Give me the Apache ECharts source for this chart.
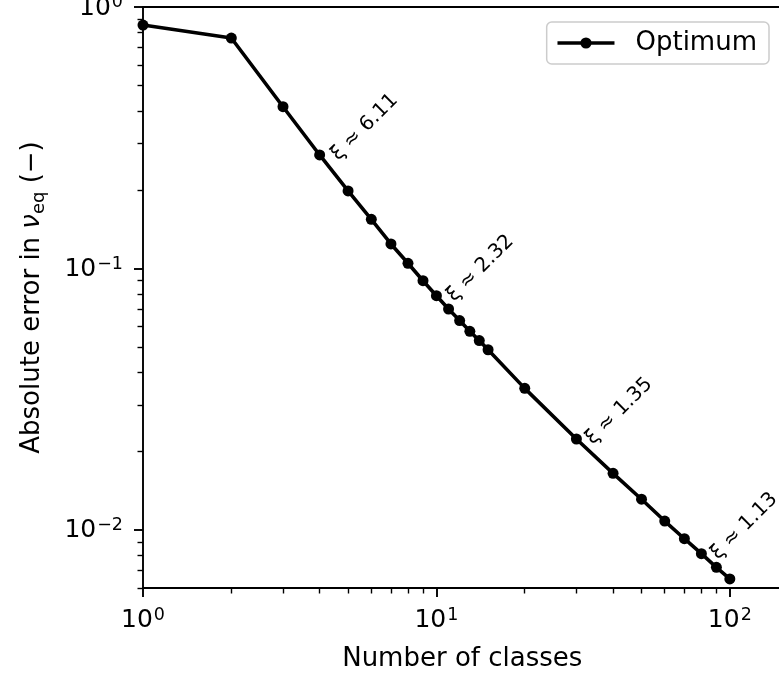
<!DOCTYPE html>
<html><head><meta charset="utf-8">
<script src="https://cdn.jsdelivr.net/npm/echarts@6/dist/echarts.min.js"></script>
<style>html,body{margin:0;padding:0;background:#fff}#c{width:779px;height:674px}</style>
</head><body><div id="c"></div>
<script>
const classes = [1,2,3,4,5,6,7,8,9,10,11,12,13,14,15,20,30,40,50,60,70,80,90,100];
const absError = [0.853,0.761,0.4156,0.2717,0.1979,0.1542,0.1241,0.1047,0.0898,0.0787,0.0700,0.0632,0.0575,0.0530,0.0489,0.0348,0.02228,0.01647,0.01311,0.01082,0.00926,0.00812,0.00720,0.00650];
const xMajorTicks = [1,10,100];
const xMinorTicks = [2,3,4,5,6,7,8,9,20,30,40,50,60,70,80,90];
const yMajorTicks = [0.01,0.1,1];
const yMinorTicks = [0.006,0.007,0.008,0.009,0.02,0.03,0.04,0.05,0.06,0.07,0.08,0.09,0.2,0.3,0.4,0.5,0.6,0.7,0.8,0.9];
const annX = [4.75,11.8,35.0,93.5];
const annY = [0.250,0.0722,0.0205,0.00745];
const annText = ['ξ ≈ 6.11','ξ ≈ 2.32','ξ ≈ 1.35','ξ ≈ 1.13'];

const FONT = 'DejaVu Sans';
function sci(v){
  const e = Math.round(Math.log10(v));
  return '{b|10}{s|' + (e < 0 ? '\u2212' + (-e) : e) + '}';
}
const rich = {
  b: {fontSize: 25, fontFamily: FONT, color: '#000', lineHeight: 27, verticalAlign: 'bottom'},
  s: {fontSize: 17.5, fontFamily: FONT, color: '#000', lineHeight: 27, verticalAlign: 'top', padding: [0,0,0,1]}
};
const common = {type: 'log', logBase: 10, splitLine: {show: false}, minorTick: {show: false}, minorSplitLine: {show: false}};

function buildOption(f){
  const legend = {
    data: ['Optimum'], right: 10, top: 22, itemWidth: 57, itemHeight: 14,
    padding: [8, 12, 8, 9],
    textStyle: {fontSize: 26, fontFamily: FONT, color: '#000', padding: [0,0,0,16]}
  };
  if (!f.plainLegend) Object.assign(legend, {
    backgroundColor: 'rgba(255,255,255,0.8)', borderColor: '#cccccc', borderWidth: 1.5, borderRadius: 5,
    lineStyle: {width: 3.6, color: '#000'}, itemStyle: {color: '#000'}
  });
  const yName = f.plainYName
    ? {name: 'Absolute error in ν_eq (\u2212)', nameTextStyle: {fontSize: 26, fontFamily: FONT, color: '#000'}}
    : {name: '{a|Absolute error in }{n|ν}{e|eq}{a| (\u2212)}',
       nameTextStyle: {fontSize: 26, fontFamily: FONT, color: '#000',
        rich: {
          a: {fontSize: 26, fontFamily: FONT, color: '#000', lineHeight: 32, verticalAlign: 'middle'},
          n: {fontSize: 26, fontFamily: FONT, fontStyle: 'italic', color: '#000', lineHeight: 32, verticalAlign: 'middle'},
          e: {fontSize: 18, fontFamily: FONT, color: '#000', lineHeight: 32, verticalAlign: 'bottom'}
        }}};
  const annSeries = f.plainScatter
    ? {type: 'scatter', name: 'annotations', silent: true, symbol: 'circle', symbolSize: 0.01,
       data: annX.map((x, i) => ({value: [x, annY[i]], label: {formatter: annText[i]}})),
       label: {show: true, position: [0, 0], align: 'left', verticalAlign: 'bottom', rotate: 45,
         fontSize: 20, fontFamily: FONT, color: '#000'}, z: 4}
    : {type: 'scatter', name: 'annotations', xAxisIndex: 0, yAxisIndex: 0, silent: true,
       symbolSize: 1, itemStyle: {color: 'rgba(0,0,0,0)'},
       data: annX.map((x, i) => ({value: [x, annY[i]], label: {formatter: annText[i]}})),
       label: {show: true, position: 'inside', align: 'left', verticalAlign: 'bottom', rotate: 45,
         fontSize: 20, fontFamily: FONT, color: '#000', textBorderWidth: 0, opacity: 1},
       emphasis: {disabled: true}, z: 4};
  return {
    animation: false,
    backgroundColor: '#fff',
    grid: {left: 143, top: 7, width: 638.5, height: 581, outerBoundsMode: 'none', containLabel: false, show: false},
    legend: legend,
    xAxis: [
      Object.assign({}, common, {
        min: 1, max: 150, position: 'bottom',
        name: 'Number of classes', nameLocation: 'middle', nameGap: 58,
        nameTextStyle: {fontSize: 26, fontFamily: FONT, color: '#000'},
        axisLine: {show: true, lineStyle: {color: '#000', width: 1.9}},
        axisTick: {show: true, length: 9, lineStyle: {color: '#000', width: 1.9}, customValues: xMajorTicks},
        axisLabel: {show: true, customValues: xMajorTicks, formatter: sci, rich: rich, margin: 18}
      }),
      Object.assign({}, common, {
        min: 1, max: 150, position: 'bottom',
        axisLine: {show: false},
        axisTick: {show: true, length: 5.5, lineStyle: {color: '#000', width: 1.4}, customValues: xMinorTicks},
        axisLabel: {show: false}
      }),
      Object.assign({}, common, {
        min: 1, max: 150, position: 'top',
        axisLine: {show: true, lineStyle: {color: '#000', width: 1.9}},
        axisTick: {show: false},
        axisLabel: {show: false}
      })
    ],
    yAxis: [
      Object.assign({}, common, yName, {
        min: 0.006, max: 1, position: 'left', nameLocation: 'middle', nameGap: 95,
        axisLine: {show: true, lineStyle: {color: '#000', width: 1.9}},
        axisTick: {show: true, length: 9, lineStyle: {color: '#000', width: 1.9}, customValues: yMajorTicks},
        axisLabel: {show: true, customValues: yMajorTicks, formatter: sci, rich: rich, margin: 20}
      }),
      Object.assign({}, common, {
        min: 0.006, max: 1, position: 'left',
        axisLine: {show: false},
        axisTick: {show: true, length: 5.5, lineStyle: {color: '#000', width: 1.4}, customValues: yMinorTicks},
        axisLabel: {show: false}
      })
    ],
    series: [
      {
        type: 'line', name: 'Optimum', xAxisIndex: 0, yAxisIndex: 0,
        data: classes.map((x, i) => [x, absError[i]]),
        symbol: 'circle', symbolSize: 11, showAllSymbol: true,
        lineStyle: {color: '#000', width: 3.6}, itemStyle: {color: '#000'}, z: 3
      },
      annSeries
    ]
  };
}

const chart = echarts.init(document.getElementById('c'), null, {renderer: 'canvas'});
function hasRightEdgeLine(){
  try {
    chart.getZr().flush();
    const cv = document.querySelector('#c canvas');
    const r = cv.width / 779;
    const ctx = cv.getContext('2d');
    let dark = 0;
    for (let y = 150; y < 450; y += 10) {
      for (let x = 774; x < 779; x++) {
        const p = ctx.getImageData(Math.floor(x * r), Math.floor(y * r), 1, 1).data;
        if (p[3] > 100 && p[0] < 150) { dark++; break; }
      }
    }
    return dark > 20;
  } catch (e) { return false; }
}
const attempts = [{}, {plainLegend: 1}, {plainScatter: 1}, {plainYName: 1}, {plainLegend: 1, plainScatter: 1}, {plainLegend: 1, plainScatter: 1, plainYName: 1}];
for (let i = 0; i < attempts.length; i++) {
  chart.setOption(buildOption(attempts[i]), true);
  if (!hasRightEdgeLine()) break;
}
</script></body></html>
